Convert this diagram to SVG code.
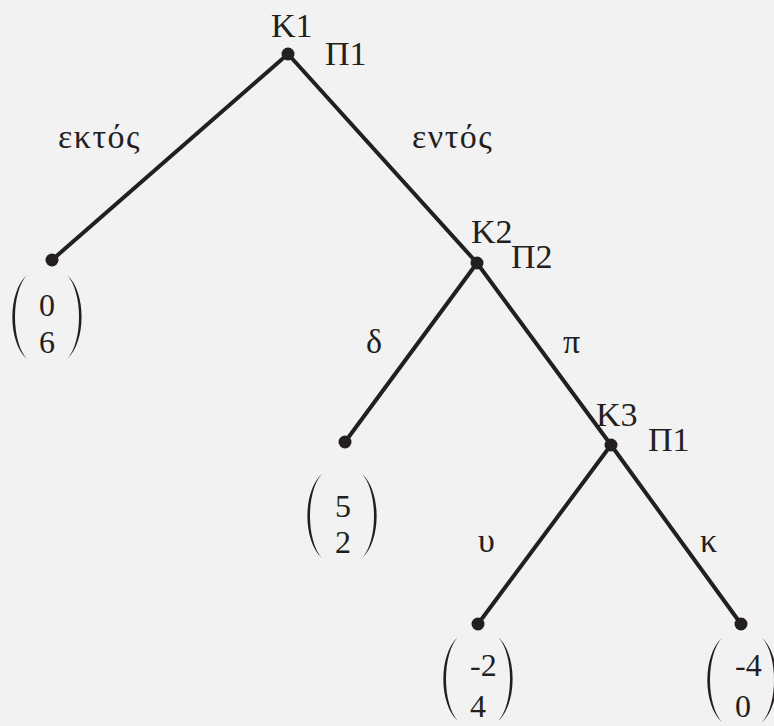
<svg xmlns="http://www.w3.org/2000/svg" width="774" height="726" viewBox="0 0 774 726">
<style>
.bg{fill:#f2f2f2}
.edge{stroke:#231f20;stroke-width:4;stroke-linecap:round;fill:none}
.dot{fill:#231f20}
text{font-family:"Liberation Serif","DejaVu Serif",serif;fill:#231f20}
.lbl{font-size:34px}
.gr{font-size:34px}
.word{letter-spacing:1.5px}
.num{font-size:32px}
.par{fill:#231f20}
</style>
<defs>
<path id="lp" class="par" d="M0,0 C-19.5,17 -19.5,67 0,84 C-16,67 -16,17 0,0 Z"/>
</defs>
<rect class="bg" x="0" y="0" width="774" height="726"/>
<g id="connectors">
<line class="edge" x1="288" y1="54" x2="52" y2="260"/>
<line class="edge" x1="288" y1="54" x2="477" y2="263"/>
<line class="edge" x1="477" y1="263" x2="345" y2="442"/>
<line class="edge" x1="477" y1="263" x2="611" y2="445"/>
<line class="edge" x1="611" y1="445" x2="478" y2="624"/>
<line class="edge" x1="611" y1="445" x2="741" y2="624"/>
<text class="gr word" x="58" y="148">εκτός</text>
<text class="gr word" x="412" y="148">εντός</text>
<text class="gr" x="366" y="353">δ</text>
<text class="gr" x="563" y="353">π</text>
<text class="gr" x="478" y="552">υ</text>
<text class="gr" x="700" y="552">κ</text>
</g>
<g id="K1">
<circle class="dot" cx="288" cy="54" r="6.5"/>
<text class="lbl" x="271" y="37">K1</text>
<text class="lbl" x="325" y="65">Π1</text>
</g>
<g id="K2">
<circle class="dot" cx="477" cy="263" r="6.5"/>
<text class="lbl" x="471" y="243">K2</text>
<text class="lbl" x="511" y="268">Π2</text>
</g>
<g id="K3">
<circle class="dot" cx="611" cy="445" r="6.5"/>
<text class="lbl" x="596" y="426">K3</text>
<text class="lbl" x="648" y="451">Π1</text>
</g>
<g id="leaf-ektos">
<circle class="dot" cx="52" cy="260" r="6.5"/>
<use href="#lp" transform="translate(27,275)"/>
<use href="#lp" transform="translate(67,275) scale(-1,1)"/>
<text class="num" x="39" y="316">0</text>
<text class="num" x="39" y="353">6</text>
</g>
<g id="leaf-delta">
<circle class="dot" cx="345" cy="442" r="6.5"/>
<use href="#lp" transform="translate(322,474)"/>
<use href="#lp" transform="translate(362,474) scale(-1,1)"/>
<text class="num" x="335" y="517">5</text>
<text class="num" x="335" y="553">2</text>
</g>
<g id="leaf-y">
<circle class="dot" cx="478" cy="624" r="6.5"/>
<use href="#lp" transform="translate(458,637)"/>
<use href="#lp" transform="translate(498,637) scale(-1,1)"/>
<text class="num" x="470" y="676">-2</text>
<text class="num" x="470" y="717">4</text>
</g>
<g id="leaf-k">
<circle class="dot" cx="741" cy="624" r="6.5"/>
<use href="#lp" transform="translate(722,638)"/>
<use href="#lp" transform="translate(762,638) scale(-1,1)"/>
<text class="num" x="735" y="676">-4</text>
<text class="num" x="735" y="717">0</text>
</g>
</svg>
